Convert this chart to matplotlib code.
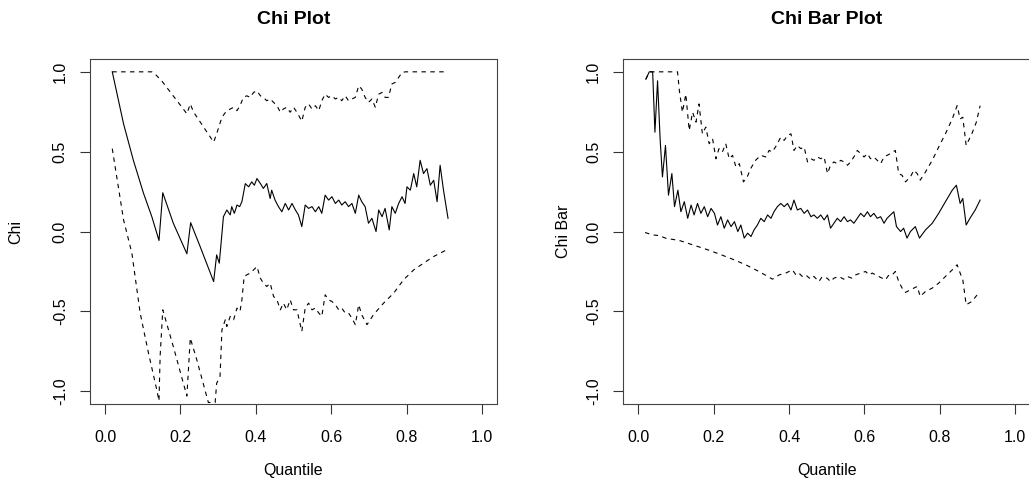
import matplotlib
matplotlib.use("Agg")
import matplotlib.pyplot as plt

plt.rcParams['font.family'] = ['Liberation Sans', 'DejaVu Sans']

# ---- Chi plot (left) ----
chi_q = [0.019, 0.049, 0.075, 0.102, 0.124, 0.143, 0.153, 0.181, 0.217, 0.227, 0.252,
         0.288, 0.296, 0.303, 0.314, 0.323, 0.332, 0.336, 0.343, 0.350, 0.357, 0.363,
         0.372, 0.381, 0.389, 0.396, 0.403, 0.412, 0.420, 0.429, 0.438, 0.442, 0.451,
         0.460, 0.469, 0.478, 0.487, 0.496, 0.505, 0.513, 0.522, 0.531, 0.540, 0.549,
         0.558, 0.567, 0.575, 0.584, 0.593, 0.602, 0.611, 0.620, 0.628, 0.637, 0.646,
         0.655, 0.664, 0.673, 0.681, 0.690, 0.699, 0.708, 0.719, 0.726, 0.735, 0.743,
         0.754, 0.761, 0.770, 0.779, 0.788, 0.796, 0.801, 0.810, 0.819, 0.827, 0.836,
         0.845, 0.854, 0.863, 0.872, 0.881, 0.889, 0.898, 0.910]
chi = [1.000, 0.674, 0.446, 0.239, 0.093, -0.056, 0.243, 0.052, -0.139, 0.056, -0.093,
       -0.313, -0.146, -0.198, 0.093, 0.135, 0.104, 0.156, 0.114, 0.166, 0.156, 0.187,
       0.300, 0.280, 0.311, 0.290, 0.332, 0.301, 0.270, 0.301, 0.207, 0.259, 0.197,
       0.156, 0.124, 0.176, 0.135, 0.176, 0.135, 0.104, 0.031, 0.166, 0.145, 0.156,
       0.124, 0.156, 0.114, 0.228, 0.197, 0.218, 0.176, 0.197, 0.166, 0.187, 0.156,
       0.176, 0.114, 0.228, 0.187, 0.156, 0.052, 0.083, 0.000, 0.135, 0.093, 0.145,
       0.010, 0.156, 0.114, 0.176, 0.218, 0.176, 0.280, 0.259, 0.363, 0.280, 0.446,
       0.363, 0.394, 0.290, 0.321, 0.187, 0.415, 0.259, 0.083]

chi_up_q = [0.019, 0.124, 0.133, 0.150, 0.204, 0.217, 0.226, 0.235, 0.288, 0.296, 0.310,
            0.323, 0.332, 0.341, 0.350, 0.358, 0.367, 0.376, 0.385, 0.394, 0.403, 0.412,
            0.420, 0.429, 0.438, 0.447, 0.456, 0.465, 0.473, 0.482, 0.491, 0.500, 0.509,
            0.522, 0.531, 0.540, 0.549, 0.558, 0.567, 0.575, 0.584, 0.593, 0.602, 0.611,
            0.620, 0.628, 0.637, 0.646, 0.655, 0.664, 0.673, 0.681, 0.690, 0.699, 0.708,
            0.717, 0.726, 0.735, 0.743, 0.752, 0.761, 0.770, 0.779, 0.788, 0.797, 0.910]
chi_up = [1.000, 1.000, 0.985, 0.944, 0.778, 0.737, 0.799, 0.747, 0.560, 0.612, 0.716,
          0.757, 0.767, 0.778, 0.757, 0.788, 0.840, 0.850, 0.840, 0.871, 0.881, 0.850,
          0.840, 0.819, 0.830, 0.809, 0.788, 0.747, 0.767, 0.778, 0.747, 0.778, 0.747,
          0.691, 0.778, 0.799, 0.767, 0.788, 0.757, 0.819, 0.860, 0.840, 0.850, 0.830,
          0.840, 0.819, 0.850, 0.819, 0.830, 0.840, 0.913, 0.892, 0.840, 0.809, 0.830,
          0.778, 0.860, 0.871, 0.840, 0.840, 0.924, 0.934, 0.965, 0.996, 1.000, 1.000]

chi_lo_q = [0.019, 0.049, 0.071, 0.093, 0.115, 0.137, 0.143, 0.146, 0.153, 0.181, 0.217,
            0.226, 0.243, 0.274, 0.292, 0.296, 0.305, 0.310, 0.319, 0.323, 0.332, 0.341,
            0.350, 0.358, 0.363, 0.369, 0.376, 0.385, 0.394, 0.403, 0.412, 0.420, 0.429,
            0.438, 0.447, 0.456, 0.465, 0.473, 0.482, 0.491, 0.500, 0.509, 0.522, 0.531,
            0.540, 0.549, 0.558, 0.567, 0.575, 0.584, 0.593, 0.602, 0.611, 0.620, 0.628,
            0.637, 0.646, 0.655, 0.664, 0.673, 0.681, 0.695, 0.712, 0.739, 0.766, 0.792,
            0.819, 0.845, 0.872, 0.910]
chi_lo = [0.519, 0.073, -0.135, -0.510, -0.760, -0.990, -1.060, -0.780, -0.490, -0.720, -1.030,
          -0.667, -0.800, -1.070, -1.070, -0.950, -0.906, -0.615, -0.552, -0.594, -0.531, -0.552,
          -0.479, -0.500, -0.427, -0.281, -0.271, -0.260, -0.240, -0.219, -0.292, -0.323, -0.344,
          -0.323, -0.406, -0.427, -0.490, -0.448, -0.490, -0.427, -0.490, -0.490, -0.625, -0.479,
          -0.448, -0.490, -0.479, -0.510, -0.531, -0.396, -0.427, -0.438, -0.458, -0.490, -0.479,
          -0.510, -0.510, -0.542, -0.583, -0.458, -0.521, -0.583, -0.521, -0.448, -0.385, -0.302,
          -0.240, -0.198, -0.156, -0.110]

# ---- Chi bar plot (right) ----
chib_q = [0.020, 0.029, 0.038, 0.044, 0.051, 0.058, 0.064, 0.072, 0.080, 0.089, 0.096,
          0.105, 0.113, 0.122, 0.131, 0.140, 0.148, 0.157, 0.166, 0.175, 0.184, 0.193,
          0.202, 0.210, 0.219, 0.228, 0.237, 0.246, 0.255, 0.264, 0.272, 0.281, 0.290,
          0.299, 0.307, 0.316, 0.325, 0.334, 0.343, 0.352, 0.360, 0.369, 0.378, 0.387,
          0.396, 0.405, 0.413, 0.422, 0.431, 0.440, 0.449, 0.458, 0.466, 0.475, 0.484,
          0.493, 0.502, 0.510, 0.519, 0.528, 0.537, 0.546, 0.555, 0.563, 0.572, 0.581,
          0.590, 0.599, 0.608, 0.616, 0.625, 0.634, 0.643, 0.652, 0.660, 0.669, 0.678,
          0.685, 0.696, 0.704, 0.713, 0.722, 0.735, 0.746, 0.762, 0.780, 0.797, 0.815,
          0.833, 0.844, 0.854, 0.861, 0.870, 0.880, 0.894, 0.907]
chib = [0.954, 1.000, 1.000, 0.622, 0.944, 0.570, 0.342, 0.539, 0.228, 0.363, 0.156,
        0.259, 0.124, 0.187, 0.083, 0.166, 0.104, 0.176, 0.114, 0.156, 0.093, 0.145,
        0.114, 0.041, 0.093, 0.021, 0.073, 0.031, 0.062, 0.000, 0.041, -0.041, -0.010,
        -0.031, 0.010, 0.041, 0.083, 0.062, 0.104, 0.083, 0.124, 0.156, 0.176, 0.156,
        0.176, 0.135, 0.197, 0.135, 0.145, 0.114, 0.135, 0.093, 0.104, 0.083, 0.104,
        0.073, 0.104, 0.021, 0.052, 0.083, 0.062, 0.093, 0.062, 0.073, 0.052, 0.083,
        0.114, 0.093, 0.124, 0.093, 0.114, 0.083, 0.093, 0.052, 0.083, 0.104, 0.124,
        0.031, 0.000, 0.021, -0.041, 0.000, 0.031, -0.041, 0.010, 0.052, 0.114, 0.187,
        0.259, 0.290, 0.176, 0.207, 0.041, 0.083, 0.135, 0.197]

chib_up_q = [0.020, 0.029, 0.104, 0.109, 0.117, 0.126, 0.135, 0.144, 0.153, 0.161, 0.170,
             0.179, 0.188, 0.197, 0.206, 0.214, 0.223, 0.232, 0.241, 0.250, 0.259, 0.268,
             0.279, 0.289, 0.298, 0.311, 0.325, 0.338, 0.347, 0.355, 0.364, 0.378, 0.387,
             0.396, 0.405, 0.413, 0.422, 0.431, 0.440, 0.449, 0.458, 0.466, 0.475, 0.484,
             0.493, 0.502, 0.510, 0.519, 0.528, 0.537, 0.546, 0.555, 0.563, 0.572, 0.581,
             0.590, 0.599, 0.608, 0.616, 0.625, 0.634, 0.643, 0.652, 0.660, 0.669, 0.682,
             0.691, 0.700, 0.709, 0.722, 0.731, 0.740, 0.748, 0.762, 0.780, 0.797, 0.815,
             0.833, 0.846, 0.854, 0.861, 0.870, 0.885, 0.897, 0.907]
chib_up = [0.954, 1.000, 1.000, 0.880, 0.747, 0.860, 0.633, 0.747, 0.685, 0.799, 0.612,
           0.654, 0.550, 0.581, 0.456, 0.519, 0.498, 0.550, 0.456, 0.477, 0.404, 0.425,
           0.311, 0.342, 0.394, 0.446, 0.477, 0.467, 0.508, 0.498, 0.529, 0.591, 0.571,
           0.602, 0.612, 0.508, 0.539, 0.519, 0.529, 0.436, 0.456, 0.446, 0.467, 0.456,
           0.467, 0.363, 0.415, 0.436, 0.425, 0.446, 0.436, 0.415, 0.436, 0.467, 0.508,
           0.488, 0.467, 0.488, 0.456, 0.467, 0.446, 0.425, 0.467, 0.477, 0.488, 0.508,
           0.363, 0.352, 0.311, 0.342, 0.384, 0.363, 0.322, 0.373, 0.446, 0.529, 0.612,
           0.705, 0.788, 0.705, 0.716, 0.539, 0.612, 0.685, 0.788]

chib_lo_q = [0.018, 0.038, 0.055, 0.073, 0.109, 0.144, 0.179, 0.214, 0.250, 0.285, 0.320,
             0.356, 0.374, 0.391, 0.409, 0.418, 0.426, 0.435, 0.444, 0.457, 0.466, 0.479,
             0.488, 0.501, 0.510, 0.519, 0.532, 0.545, 0.554, 0.567, 0.577, 0.590, 0.603,
             0.612, 0.621, 0.629, 0.638, 0.647, 0.656, 0.665, 0.674, 0.682, 0.691, 0.700,
             0.709, 0.722, 0.731, 0.740, 0.748, 0.762, 0.780, 0.797, 0.815, 0.833, 0.846,
             0.854, 0.861, 0.870, 0.885, 0.903]
chib_lo = [-0.006, -0.021, -0.025, -0.042, -0.056, -0.083, -0.110, -0.140, -0.173, -0.208, -0.250,
           -0.298, -0.271, -0.260, -0.240, -0.271, -0.260, -0.281, -0.271, -0.298, -0.281, -0.313,
           -0.283, -0.292, -0.313, -0.292, -0.281, -0.298, -0.281, -0.292, -0.271, -0.260, -0.250,
           -0.271, -0.260, -0.271, -0.281, -0.292, -0.302, -0.271, -0.271, -0.250, -0.313, -0.354,
           -0.381, -0.365, -0.354, -0.344, -0.406, -0.375, -0.354, -0.323, -0.281, -0.240, -0.208,
           -0.260, -0.302, -0.458, -0.438, -0.385]

panels = [
    ("Chi Plot", "Chi", (chi_q, chi), (chi_up_q, chi_up), (chi_lo_q, chi_lo), 0.0875, -0.163),
    ("Chi Bar Plot", "Chi Bar", (chib_q, chib), (chib_up_q, chib_up), (chib_lo_q, chib_lo), 0.6057, -0.128),
]

fig = plt.figure(figsize=(10.29, 4.88), dpi=100)
dash = (0, (4, 4))
for title, ylab, mid, up, lo, left, ylab_x in panels:
    ax = fig.add_axes([left, 0.172, 0.3955, 0.707])
    ax.plot(mid[0], mid[1], color="black", lw=0.8)
    ax.plot(up[0], up[1], color="black", lw=0.8, linestyle=dash)
    ax.plot(lo[0], lo[1], color="black", lw=0.8, linestyle=dash)
    ax.set_xlim(-0.04, 1.04)
    ax.set_ylim(-1.08, 1.08)
    ax.set_xticks([0.0, 0.2, 0.4, 0.6, 0.8, 1.0])
    ax.set_xticklabels(["0.0", "0.2", "0.4", "0.6", "0.8", "1.0"])
    ax.set_yticks([-1.0, -0.5, 0.0, 0.5, 1.0])
    ax.set_yticklabels(["-1.0", "-0.5", "0.0", "0.5", "1.0"], rotation=90, va="center")
    ax.tick_params(direction="out", length=7, width=0.8, color="#333333",
                   labelsize=11.5)
    ax.tick_params(axis="x", pad=12)
    ax.tick_params(axis="y", pad=9)
    for s in ax.spines.values():
        s.set_color("#444444")
        s.set_linewidth(0.8)
    ax.set_title(title, fontsize=14, fontweight="bold", pad=25)
    ax.set_xlabel("Quantile", fontsize=11.5)
    ax.xaxis.set_label_coords(0.5, -0.17)
    ax.set_ylabel(ylab, fontsize=11.5)
    ax.yaxis.set_label_coords(ylab_x, 0.5)

fig.savefig("out.png", dpi=100)
